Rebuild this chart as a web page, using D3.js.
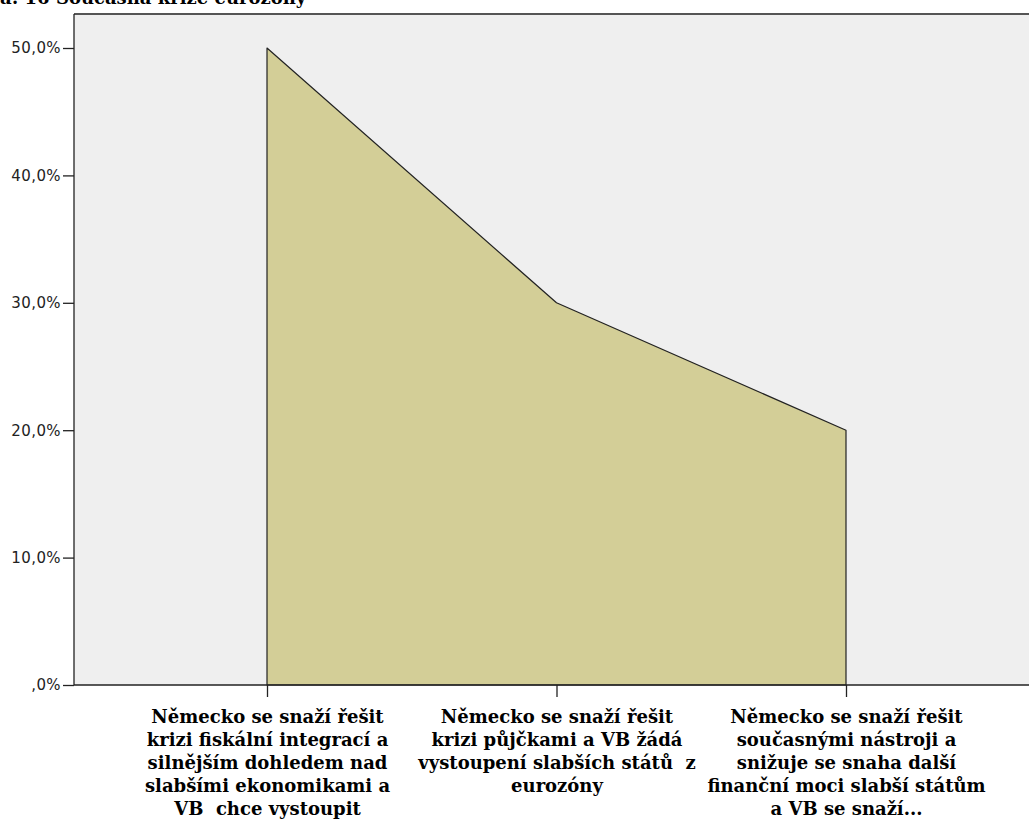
<!DOCTYPE html>
<html><head><meta charset="utf-8">
<script src="https://cdn.jsdelivr.net/npm/d3@7"></script>
<style>body{margin:0;background:#fff}svg{display:block}</style>
</head><body>
<svg id="c" width="1029" height="822"></svg>
<script>
const title = "a: 16 Současná krize eurozóny";
const categories = [
  ["Německo se snaží řešit","krizi fiskální integrací a","silnějším dohledem nad","slabšími ekonomikami a","VB  chce vystoupit"],
  ["Německo se snaží řešit","krizi půjčkami a VB žádá","vystoupení slabších států  z","eurozóny"],
  ["Německo se snaží řešit","současnými nástroji a","snižuje se snaha další","finanční moci slabší státům","a VB se snaží..."]
];
const values = [50, 30, 20];
const yTicks = [0, 10, 20, 30, 40, 50];
const yTickLabels = [",0%", "10,0%", "20,0%", "30,0%", "40,0%", "50,0%"];

const svg = d3.select("#c");
const L = 74, T = 14, B = 685, R = 1039;
const x = d3.scalePoint().domain(d3.range(categories.length)).range([L, R]).padding(2 / 3);
const y = d3.scaleLinear().domain([0, 50]).range([B, 48]);

svg.append("text").attr("x", 0).attr("y", 3.5).attr("font-family", "DejaVu Serif").attr("font-weight", "bold").attr("font-size", 18).attr("fill", "#000").text(title);

svg.append("rect").attr("x", L).attr("y", T).attr("width", R - L).attr("height", B - T).attr("fill", "#efefef");
svg.append("line").attr("x1", L).attr("x2", R).attr("y1", T).attr("y2", T).attr("stroke", "#555").attr("stroke-width", 2);

const area = d3.area().x((d, i) => x(i)).y0(y(0)).y1(d => y(d));
svg.append("path").datum(values).attr("d", area).attr("fill", "#d3ce97").attr("stroke", "#222").attr("stroke-width", 1.2).attr("stroke-linejoin", "round");

const yAxis = svg.append("g").attr("transform", `translate(${L},0)`)
  .call(d3.axisLeft(y).tickValues(yTicks).tickFormat((d, i) => yTickLabels[i]).tickSize(11).tickPadding(2));
yAxis.select(".domain").attr("stroke", "#222").attr("stroke-width", 1.3).attr("d", `M0,${T}V${B}`);
yAxis.selectAll(".tick line").attr("stroke", "#222").attr("stroke-width", 1.3);
yAxis.selectAll(".tick text").attr("font-family", "DejaVu Sans").attr("font-size", 15).attr("letter-spacing", 0.4).attr("fill", "#222");

const xAxis = svg.append("g").attr("transform", `translate(0,${B})`)
  .call(d3.axisBottom(x).tickSize(12).tickFormat(""));
xAxis.select(".domain").attr("stroke", "#222").attr("stroke-width", 1.3).attr("d", `M${L},0H${R}`);
xAxis.selectAll(".tick line").attr("stroke", "#222").attr("stroke-width", 1.3);
xAxis.selectAll(".tick").each(function(d) {
  const t = d3.select(this).append("text").attr("text-anchor", "middle").attr("fill", "#000")
    .style("white-space", "pre")
    .attr("font-family", "DejaVu Serif").attr("font-weight", "bold").attr("font-size", 18);
  categories[d].forEach((ln, k) => t.append("tspan").attr("x", 0).attr("y", 38 + k * 23).text(ln));
});
</script>
</body></html>
